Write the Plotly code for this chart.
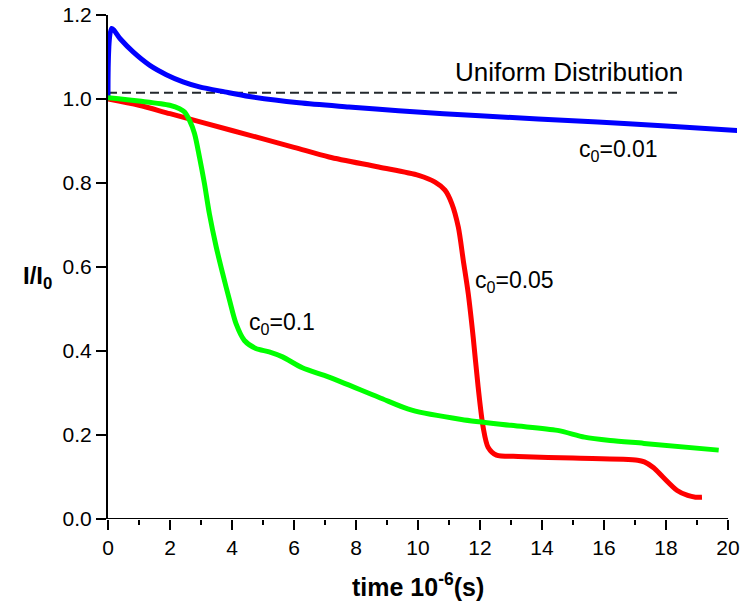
import plotly.graph_objects as go

# Intensity ratio I/I0 versus time for three initial concentrations
blue_t = [0, 0.12, 0.385, 0.81, 1.35, 1.88, 2.42, 2.95, 3.76, 4.56, 6.16, 7.77, 9.37, 12.0, 15.8, 18.0, 20.3]
blue_v = [1.0, 1.168, 1.144, 1.112, 1.080, 1.058, 1.041, 1.029, 1.017, 1.006, 0.991, 0.981, 0.972, 0.960, 0.945, 0.936, 0.925]

red_t = [0, 1, 2.0, 4, 6, 7.13, 8.73, 10.02, 10.55, 10.87, 11.09, 11.3, 11.46, 11.62, 11.78,
         11.94, 12.1, 12.26, 12.53, 13.23, 15, 17.08, 17.3, 17.6, 17.9, 18.36, 18.7, 18.95, 19.16]
red_v = [1.0, 0.985, 0.965, 0.925, 0.885, 0.862, 0.838, 0.818, 0.802, 0.783, 0.751, 0.695, 0.616, 0.537, 0.433,
         0.314, 0.219, 0.171, 0.152, 0.149, 0.145, 0.140, 0.136, 0.122, 0.100, 0.068, 0.056, 0.052, 0.052]

green_t = [0, 1, 1.99, 2.31, 2.47, 2.63, 2.79, 2.95, 3.11, 3.27, 3.49, 3.70, 3.92, 4.13, 4.40, 4.77,
           5.2, 5.63, 6.27, 7.13, 8.73, 9.8, 11.4, 13.0, 14.5, 15.37, 16.2, 17.29, 19.7]
green_v = [1.003, 0.995, 0.985, 0.977, 0.969, 0.949, 0.918, 0.862, 0.799, 0.727, 0.648, 0.584, 0.521, 0.465,
           0.425, 0.406, 0.398, 0.386, 0.360, 0.338, 0.29, 0.259, 0.237, 0.223, 0.211, 0.195, 0.187, 0.18, 0.164]

uniform_t = [0, 18.46]
uniform_v = [1.015, 1.015]

x_major = [0, 2, 4, 6, 8, 10, 12, 14, 16, 18, 20]
x_minor = [1, 3, 5, 7, 9, 11, 13, 15, 17, 19]
y_ticks = [0.0, 0.2, 0.4, 0.6, 0.8, 1.0, 1.2]

FONT = "Liberation Sans, Arial, Helvetica, sans-serif"

fig = go.Figure()
fig.add_trace(go.Scatter(x=uniform_t, y=uniform_v, mode="lines",
                         line=dict(color="#23292d", width=2, dash="9px,5px")))
fig.add_trace(go.Scatter(x=blue_t, y=blue_v, mode="lines",
                         line=dict(color="#0000ff", width=5, shape="spline", smoothing=0.8)))
fig.add_trace(go.Scatter(x=red_t, y=red_v, mode="lines",
                         line=dict(color="#ff0000", width=5, shape="spline", smoothing=0.8)))
fig.add_trace(go.Scatter(x=green_t, y=green_v, mode="lines",
                         line=dict(color="#00ff00", width=5, shape="spline", smoothing=0.8)))

# bottom axis line drawn only over 0..20
fig.add_shape(type="line", xref="x", yref="y", x0=0, x1=20, y0=0, y1=0,
              line=dict(color="black", width=2), layer="above")

labels = [
    ("Uniform Distribution", 14.86, 1.064, "center", 26),
    ("c<sub>0</sub>=0.01", 15.12, 0.877, "left", 23),
    ("c<sub>0</sub>=0.05", 11.76, 0.566, "left", 23),
    ("c<sub>0</sub>=0.1", 4.47, 0.466, "left", 23),
]
for text, x, y, anchor, size in labels:
    fig.add_annotation(x=x, y=y, xref="x", yref="y", text=text, showarrow=False,
                       xanchor=anchor, yanchor="middle",
                       font=dict(family=FONT, size=size, color="black"))

fig.add_annotation(x=10, y=-0.1315, xref="x", yref="paper", text="<b>time 10<sup>-6</sup>(s)</b>",
                   showarrow=False, xanchor="center", yanchor="middle",
                   font=dict(family=FONT, size=25, color="black"))
fig.add_annotation(x=-0.112, y=0.5755, xref="paper", yref="y", text="<b>I/I<sub>0</sub></b>",
                   showarrow=False, xanchor="center", yanchor="middle",
                   font=dict(family=FONT, size=24, color="black"))

fig.update_layout(
    width=740, height=607,
    margin=dict(l=108, r=0, t=15, b=88),
    paper_bgcolor="white", plot_bgcolor="white",
    showlegend=False,
    font=dict(family=FONT, size=21, color="black"),
)
fig.update_xaxes(range=[0, 20.29], showgrid=False, zeroline=False, showline=False,
                 tickmode="array", tickvals=x_major, ticks="outside", ticklen=10, tickwidth=2,
                 tickcolor="black", tickfont=dict(family=FONT, size=21, color="black"),
                 ticklabeloverflow="allow",
                 minor=dict(tickmode="array", tickvals=x_minor, ticks="outside", ticklen=5,
                            tickwidth=2, tickcolor="black"))
fig.update_yaxes(range=[0, 1.2], showgrid=False, zeroline=False, showline=True, linecolor="black",
                 linewidth=2, tickmode="array", tickvals=y_ticks, tickformat=".1f",
                 ticks="outside", ticklen=10, tickwidth=2, tickcolor="black",
                 tickfont=dict(family=FONT, size=21, color="black"))

fig.write_html("out.html")
